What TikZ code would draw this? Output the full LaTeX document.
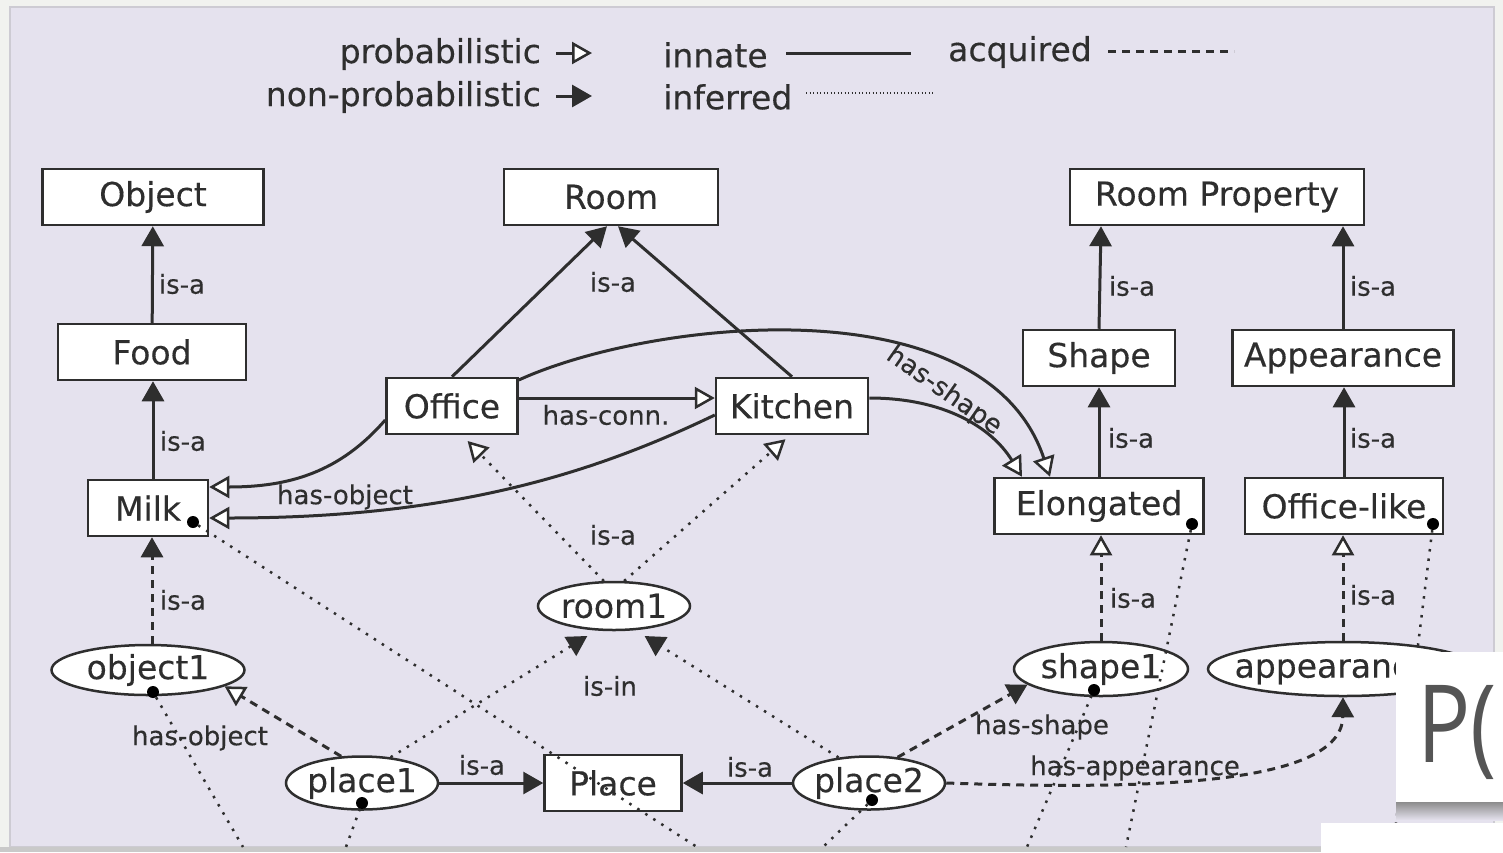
\documentclass[tikz,border=0pt]{standalone}
\usepackage{fontspec}
\setmainfont[FakeBold=0.3]{DejaVu Sans}
\newfontfamily\overlayfont{Open Sans}
\usetikzlibrary{arrows.meta,shapes.geometric}
\definecolor{panel}{HTML}{E5E2EE}
\definecolor{outer}{HTML}{F1F2EF}
\definecolor{rim}{HTML}{CDCBD3}
\definecolor{strip}{HTML}{C9C9C9}
\definecolor{ink}{HTML}{2E2E2E}
\definecolor{pgray}{HTML}{555555}
\newcommand{\inlabel}[1]{\makebox[0pt]{#1}}
\tikzset{
  cls/.style={draw=ink, fill=white, line width=2.5pt, minimum height=56pt,
    inner sep=0pt, font=\fontsize{33}{38}\selectfont, text=ink},
  inst/.style={ellipse, draw=ink, fill=white, line width=2.5pt, minimum height=52pt,
    inner sep=0pt, font=\fontsize{33}{38}\selectfont, text=ink},
  lbl/.style={font=\fontsize{26}{30}\selectfont, text=ink, inner sep=0pt},
  legtext/.style={font=\fontsize{33}{37}\selectfont, text=ink, inner sep=0pt},
  conn/.style={draw=ink, line width=3pt},
  innate/.style={conn},
  acquired/.style={conn, dash pattern=on 8pt off 6pt},
  inferred/.style={conn, line width=2.5pt, dash pattern=on 2.5pt off 7pt},
  prob/.style={-{Triangle[open, length=20pt, width=22pt, fill=white, line width=2.5pt]}},
  nonprob/.style={-{Triangle[length=20pt, width=22pt]}},
  dotmark/.style={circle, fill=black, inner sep=0pt, minimum size=12pt},
}
\begin{document}
\begin{tikzpicture}[x=1pt,y=-1pt]
\useasboundingbox (0,0) rectangle (1503,852);
% background
\fill[outer] (0,0) rectangle (1503,852);
\filldraw[fill=panel, draw=rim, line width=1.5pt] (10,7) rectangle (1494,847);
\fill[strip] (0,847) rectangle (1503,852);

% legend
\node[legtext, anchor=east] (lprob) at (541,54) {probabilistic};
\node[legtext, anchor=east] (lnonprob) at (541,97) {non-probabilistic};
\coordinate (lpa) at (556,53); \coordinate (lpb) at (592,53);
\coordinate (lna) at (556,96); \coordinate (lnb) at (592,96);
\draw[innate, prob] (lpa) -- (lpb);
\draw[innate, nonprob] (lna) -- (lnb);
\node[legtext, anchor=west] (linnate) at (663,55) {innate};
\node[legtext, anchor=west] (linferred) at (663,97) {inferred};
\node[legtext, anchor=west] (lacquired) at (948,52) {acquired};
\coordinate (lia) at (786,53); \coordinate (lib) at (911,53);
\coordinate (lfa) at (806,93); \coordinate (lfb) at (934,93);
\coordinate (laa) at (1108,51); \coordinate (lab) at (1234,51);
\draw[innate] (lia) -- (lib);
\draw[conn, line width=2pt, dash pattern=on 1.2pt off 2.3pt] (lfa) -- (lfb);
\draw[acquired] (laa) -- (lab);

% classes
\node[cls, minimum width=221pt] (object) at (153,197) {Object};
\node[cls, minimum width=214pt] (room) at (611,197) {Room};
\node[cls, minimum width=294pt] (rprop) at (1217,197) {Room Property};
\node[cls, minimum width=188pt] (food) at (152,352) {Food};
\node[cls, minimum width=152pt] (shape) at (1099,358) {Shape};
\node[cls, minimum width=221pt] (appear) at (1343,358) {Appearance};
\node[cls, minimum width=131pt] (office) at (452,406) {Office};
\node[cls, minimum width=152pt] (kitchen) at (792,406) {Kitchen};
\node[cls, minimum width=120pt] (milk) at (148,508) {Milk};
\node[cls, minimum width=209pt] (elong) at (1099,506) {Elongated};
\node[cls, minimum width=198pt] (offlike) at (1344,506) {Office-like};
\node[cls, minimum width=137pt] (place) at (613,783) {Place};

% instances
\node[inst, minimum width=152pt, minimum height=48pt] (room1) at (614,606) {\inlabel{room1}};
\node[inst, minimum width=193pt, minimum height=50pt] (object1) at (148,670) {\inlabel{object1}};
\node[inst, minimum width=174pt, minimum height=54pt] (shape1) at (1101,669) {\inlabel{shape1}};
\node[inst, minimum width=270pt, minimum height=54pt] (appear1) at (1343,669) {\inlabel{appearance1}};
\node[inst, minimum width=152pt, minimum height=53pt] (place1) at (362,783) {\inlabel{place1}};
\node[inst, minimum width=152pt, minimum height=53pt] (place2) at (869,783) {\inlabel{place2}};

% innate is-a hierarchy
\draw[innate, nonprob] (food) -- (object);
\node[lbl] at (182,284) {is-a};
\draw[innate, nonprob] ([xshift=5pt]milk.north) -- ([xshift=1pt]food.south);
\node[lbl] at (183,441) {is-a};
\draw[innate, nonprob] (office.north) -- ([xshift=-4pt]room.south);
\draw[innate, nonprob] (kitchen.north) -- ([xshift=7pt]room.south);
\node[lbl] at (613,282) {is-a};
\draw[innate, nonprob] (shape.north) -- ([xshift=-116pt]rprop.south);
\node[lbl] at (1132,286) {is-a};
\draw[innate, nonprob] (appear.north) -- ([xshift=126pt]rprop.south);
\node[lbl] at (1373,286) {is-a};
\draw[innate, nonprob] (elong.north) -- (shape.south);
\node[lbl] at (1131,438) {is-a};
\draw[innate, nonprob] (offlike.north) -- ([xshift=1pt]appear.south);
\node[lbl] at (1373,438) {is-a};

% innate probabilistic relations
\draw[innate, prob] ([yshift=8pt]office.east) -- ([yshift=8pt]kitchen.west);
\node[lbl] at (606,415) {has-conn.};
\draw[innate, prob] ([yshift=-14pt]office.west) .. controls (340,472) and (290,487) .. ([yshift=21pt]milk.east);
\draw[innate, prob] ([yshift=-9pt]kitchen.west) .. controls (590,475) and (450,518) .. ([yshift=-10pt]milk.east);
\node[lbl] at (345,497) {has-object};
\draw[innate, prob] ([yshift=26pt]office.east) .. controls (650,320) and (985,282) .. ([xshift=-49pt]elong.north);
\draw[innate, prob] ([yshift=8pt]kitchen.east) .. controls (945,398) and (992,428) .. ([xshift=-77pt]elong.north);
\node[lbl, rotate=-35] at (944,391) {has-shape};

% acquired relations
\draw[acquired, nonprob] ([xshift=4pt]object1.north) -- ([xshift=4pt]milk.south);
\node[lbl] at (183,600) {is-a};
\draw[acquired, prob] (shape1.north) -- ([xshift=2pt]elong.south);
\node[lbl] at (1133,598) {is-a};
\draw[acquired, prob] (appear1.north) -- ([xshift=-1pt]offlike.south);
\node[lbl] at (1373,595) {is-a};
\draw[acquired, prob] (place1.128) -- (object1.-12);
\node[lbl] at (200,738) {has-object};
\draw[acquired, nonprob] (place2.42) -- (shape1.192);
\node[lbl] at (1042,727) {has-shape};
\draw[acquired, nonprob] (place2.east) .. controls (1150,790) and (1342,785) .. (appear1.south);
\node[lbl] at (1135,768) {has-appearance};

% innate instance links
\draw[innate, nonprob] (place1.east) -- (place.west);
\node[lbl] at (482,765) {is-a};
\draw[innate, nonprob] (place2.west) -- (place.east);
\node[lbl] at (750,767) {is-a};

% inferred relations
\draw[inferred, prob, shorten >=8pt] (room1.112) -- ([xshift=10pt]office.south);
\draw[inferred, prob, shorten >=6pt] (room1.68) -- ([xshift=-2pt]kitchen.south);
\node[lbl] at (613,535) {is-a};
\draw[inferred, nonprob, shorten >=9pt] (place1.42) -- ([xshift=-19pt]room1.south);
\draw[inferred, nonprob, shorten >=9pt] (place2.140) -- ([xshift=23pt]room1.south);
\node[lbl] at (610,686) {is-in};

% attachment points leading out of the panel
\node[dotmark] (milkdot) at (193,522) {};
\node[dotmark] (elongdot) at (1192,524) {};
\node[dotmark] (offlikedot) at (1433,524) {};
\node[dotmark] (object1dot) at (153,692) {};
\node[dotmark] (shape1dot) at (1094,690) {};
\node[dotmark] (place1dot) at (362,803) {};
\node[dotmark] (place2dot) at (872,800) {};
\coordinate (milkout) at (697,847);
\coordinate (elongout) at (1126,847);
\coordinate (offlikeout) at (1393,847);
\coordinate (object1out) at (243,847);
\coordinate (shape1out) at (1027,847);
\coordinate (place1out) at (346,847);
\coordinate (place2out) at (823,847);
\draw[inferred] (milkdot) -- (milkout);
\draw[inferred] (elongdot) -- (elongout);
\draw[inferred] (offlikedot) -- (offlikeout);
\draw[inferred] (object1dot) -- (object1out);
\draw[inferred] (shape1dot) -- (shape1out);
\draw[inferred] (place1dot) -- (place1out);
\draw[inferred] (place2dot) -- (place2out);

% overlay cards
\shade[top color=black!45, bottom color=panel] (1396,802) rectangle (1503,820);
\fill[white] (1396,652) rectangle (1503,802);
\node[font=\overlayfont\fontsize{108}{112}\selectfont, text=pgray, anchor=west, inner sep=0pt, xscale=0.82] (ptext) at (1417,732) {P(};
\fill[white] (1321,823) rectangle (1503,852);
\end{tikzpicture}
\end{document}
